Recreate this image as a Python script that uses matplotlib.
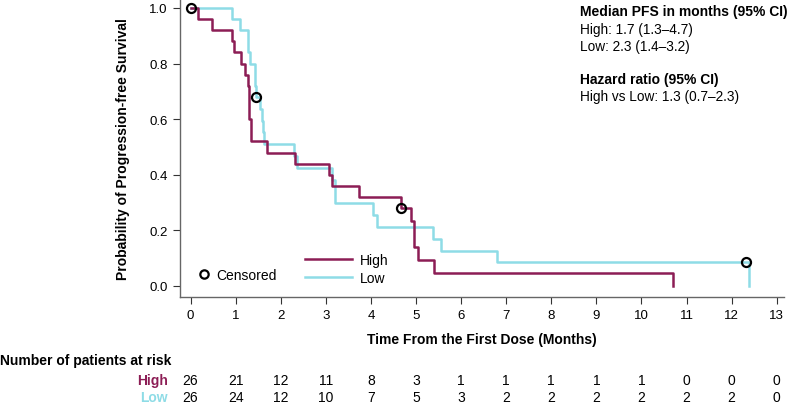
import matplotlib
matplotlib.use('Agg')
import matplotlib.pyplot as plt
from matplotlib import font_manager
from matplotlib.lines import Line2D
import matplotlib.transforms as mtransforms

plt.rcParams['font.family'] = ['Liberation Sans', 'DejaVu Sans']

names = set(f.name for f in font_manager.fontManager.ttflist)
NARROW = 'Liberation Sans Narrow' if 'Liberation Sans Narrow' in names else 'Liberation Sans'

# Kaplan-Meier steps
high_t = [0, 0.17, 0.48, 0.93, 0.96, 1.13, 1.21, 1.27, 1.30, 1.34, 1.69, 2.32, 3.08, 3.13, 3.74, 4.67, 4.90, 4.96, 5.05, 5.40, 10.69]
high_s = [1.0, 0.96, 0.92, 0.88, 0.84, 0.80, 0.76, 0.72, 0.60, 0.52, 0.48, 0.44, 0.40, 0.36, 0.32, 0.28, 0.233, 0.14, 0.093, 0.047, 0.0]
low_t = [0, 0.91, 1.10, 1.27, 1.32, 1.43, 1.45, 1.54, 1.58, 1.60, 1.64, 2.30, 2.37, 3.13, 3.20, 4.05, 4.13, 5.38, 5.55, 6.79, 12.38]
low_s = [1.0, 0.96, 0.92, 0.84, 0.80, 0.72, 0.68, 0.6375, 0.595, 0.5525, 0.51, 0.4675, 0.425, 0.3825, 0.2975, 0.255, 0.2125, 0.17, 0.1275, 0.085, 0.0]

cens_t = [0, 1.45, 4.67, 12.32]
cens_s = [1.0, 0.68, 0.28, 0.085]

months = list(range(14))
risk_high = [26, 21, 12, 11, 8, 3, 1, 1, 1, 1, 1, 0, 0, 0]
risk_low = [26, 24, 12, 10, 7, 5, 3, 2, 2, 2, 2, 2, 2, 0]

c_high = '#8c1d55'
c_low = '#8edce6'

W, H = 788, 406
fig = plt.figure(figsize=(W / 100, H / 100), dpi=100)
ax = fig.add_axes([180 / W, 1 - 298 / H, (784 - 180) / W, 298 / H])

ax.step(high_t, high_s, where='post', color=c_high, lw=1.8, zorder=3)
ax.step(low_t, low_s, where='post', color=c_low, lw=1.8, zorder=2)
ax.plot(cens_t, cens_s, 'o', mfc='none', mec='black', mew=1.6, ms=6.5, zorder=4)

ax.set_xlim(-0.233, 13.16)
ax.set_ylim(-0.0396, 1.032)
ax.set_xticks(months)
ax.set_yticks([0, 0.2, 0.4, 0.6, 0.8, 1.0])
ax.set_yticklabels(['0.0', '0.2', '0.4', '0.6', '0.8', '1.0'], fontsize=9.5)
ax.set_xticklabels([str(m) for m in months], fontsize=9.5, family=NARROW)
for s in ['top', 'right']:
    ax.spines[s].set_visible(False)
for s in ['left', 'bottom']:
    ax.spines[s].set_color('#666666')
    ax.spines[s].set_linewidth(1.0)
ax.tick_params(length=5, color='#333333', width=0.8, pad=4)

ax.set_ylabel('Probability of Progression-free Survival', fontsize=10, fontweight='bold', labelpad=14)
fig.text(482 / W, 1 - 340 / H, 'Time From the First Dose (Months)', ha='center', va='center',
         fontsize=10, fontweight='bold', family=NARROW)

# legends
leg1 = ax.legend([Line2D([], [], ls='none', marker='o', mfc='none', mec='black', mew=1.6, ms=6)],
                 ['Censored'], loc='center left', bbox_to_anchor=(6 / 604, 1 - 276 / 298),
                 frameon=False, fontsize=10, handlelength=0.8, handletextpad=0.5)
ax.add_artist(leg1)
ax.legend([Line2D([], [], color=c_high, lw=1.8), Line2D([], [], color=c_low, lw=1.8)],
          ['High', 'Low'], loc='center left', bbox_to_anchor=(112 / 604, 1 - 270 / 298),
          frameon=False, fontsize=10, handlelength=3.4, handletextpad=0.6, labelspacing=0.25)

# summary text
tx = 580 / W
fig.text(tx, 1 - 12 / H, 'Median PFS in months (95% CI)', fontsize=10, fontweight='bold', va='center')
fig.text(tx, 1 - 30 / H, 'High: 1.7 (1.3\u20134.7)', fontsize=9.8, va='center')
fig.text(tx, 1 - 47 / H, 'Low: 2.3 (1.4\u20133.2)', fontsize=9.8, va='center')
fig.text(tx, 1 - 80 / H, 'Hazard ratio (95% CI)', fontsize=10, fontweight='bold', va='center')
fig.text(tx, 1 - 97 / H, 'High vs Low: 1.3 (0.7\u20132.3)', fontsize=9.8, va='center')

# number at risk table
trans = mtransforms.blended_transform_factory(ax.transData, fig.transFigure)
fig.text(0, 1 - 361 / H, 'Number of patients at risk', fontsize=10, fontweight='bold', va='center')
fig.text(168 / W, 1 - 381 / H, 'High', fontsize=10, fontweight='bold', color=c_high, ha='right', va='center', family=NARROW)
fig.text(168 / W, 1 - 398 / H, 'Low', fontsize=10, fontweight='bold', color=c_low, ha='right', va='center', family=NARROW)
for m, rh, rl in zip(months, risk_high, risk_low):
    ax.text(m, 1 - 381 / H, str(rh), transform=trans, ha='center', va='center', fontsize=10, family=NARROW, clip_on=False)
    ax.text(m, 1 - 398 / H, str(rl), transform=trans, ha='center', va='center', fontsize=10, family=NARROW, clip_on=False)

fig.savefig('out.png', dpi=100)
